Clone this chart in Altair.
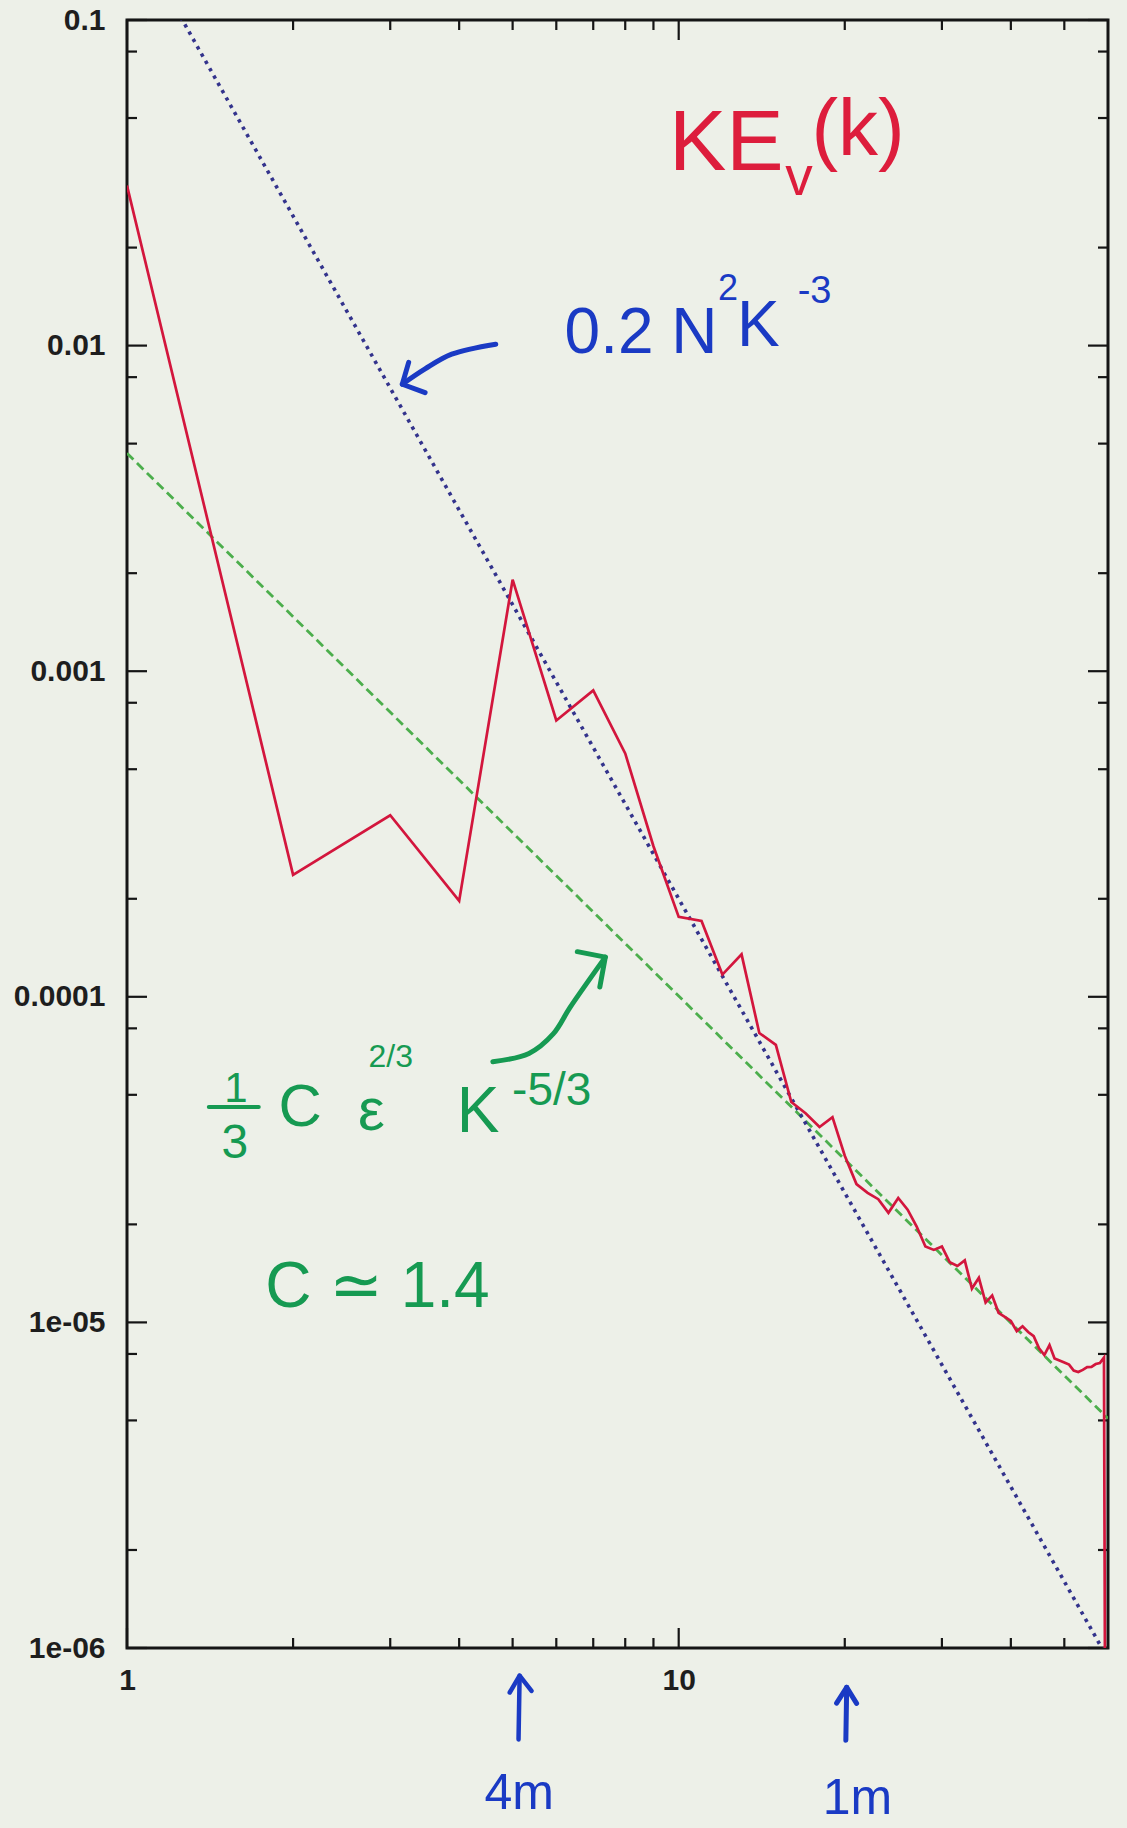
import altair as alt
import pandas as pd

# ---------------- data ----------------
k_values = list(range(1, 61))
ke_values = [
    0.031, 2.37e-4, 3.61e-4, 1.97e-4, 1.91e-3, 7.06e-4, 8.73e-4, 5.59e-4, 2.9e-4, 1.76e-4,
    1.71e-4, 1.17e-4, 1.35e-4, 7.74e-5, 7.12e-5, 4.75e-5, 4.38e-5, 3.98e-5, 4.27e-5, 3.25e-5,
    2.66e-5, 2.50e-5, 2.39e-5, 2.17e-5, 2.41e-5, 2.22e-5, 1.97e-5, 1.71e-5, 1.67e-5, 1.71e-5,
    1.53e-5, 1.49e-5, 1.55e-5, 1.27e-5, 1.37e-5, 1.15e-5, 1.21e-5, 1.07e-5, 1.04e-5, 1.01e-5,
    9.40e-6, 9.73e-6, 9.34e-6, 9.07e-6, 8.33e-6, 7.94e-6, 8.52e-6, 7.75e-6, 7.64e-6, 7.53e-6,
    7.42e-6, 7.11e-6, 7.04e-6, 7.15e-6, 7.29e-6, 7.30e-6, 7.45e-6, 7.50e-6, 7.80e-6, 1e-9,
]

# reference power laws (end points of the straight log-log lines)
blue_k = [1, 60]
blue_v = [0.2, 9.26e-7]          # 0.2 N^2 k^-3
green_k = [1, 60]
green_v = [4.67e-3, 5.07e-6]     # 1/3 C eps^(2/3) k^(-5/3)

# axis ticks
x_major = [1, 10]
x_major_labels = ["1", "10"]
x_minor = [2, 3, 4, 5, 6, 7, 8, 9, 20, 30, 40, 50]
y_major = [0.1, 0.01, 0.001, 0.0001, 1e-05, 1e-06]
y_major_labels = ["0.1", "0.01", "0.001", "0.0001", "1e-05", "1e-06"]
y_minor = [8e-2, 5e-2, 2e-2, 8e-3, 5e-3, 2e-3, 8e-4, 5e-4, 2e-4,
           8e-5, 5e-5, 2e-5, 8e-6, 5e-6, 2e-6]

# ---------------- styling ----------------
W, H = 981, 1628
BG = "#edf0e8"
FRAME = "#151515"
AXFONT = "Liberation Sans"
HAND = "Liberation Sans, DejaVu Sans, sans-serif"
RED = "#dd1d3c"
BLUE = "#1a3ac4"
GREEN = "#169a52"


def label_expr(values, labels):
    expr = ""
    for v, lab in zip(values, labels):
        expr += f"datum.value > {v * 0.5} ? '{lab}' : "
    return expr + "''"


xs = alt.Scale(type="log", domain=[1, 60], nice=False)
ys = alt.Scale(type="log", domain=[1e-6, 0.1], nice=False)

x_axis = alt.Axis(values=x_major, labelExpr=label_expr(x_major[::-1], x_major_labels[::-1]),
                  ticks=False, domain=False, grid=False, labelFontSize=30, labelFont=AXFONT,
                  labelFontWeight="bold", labelColor="#1e1e1e", labelPadding=17,
                  labelFlush=False, title=None)
y_axis = alt.Axis(values=y_major, labelExpr=label_expr(y_major, y_major_labels),
                  ticks=False, domain=False, grid=False, labelFontSize=30, labelFont=AXFONT,
                  labelFontWeight="bold", labelColor="#1e1e1e", labelPadding=22,
                  labelFlush=False, title=None)


def X(f):
    return alt.X(f"{f}:Q", scale=xs, axis=x_axis)


def Y(f):
    return alt.Y(f"{f}:Q", scale=ys, axis=y_axis)


layers = []

# tick marks drawn inward on all four sides
def yticks(vals, x0, x1):
    return alt.Chart(pd.DataFrame({"v": vals})).mark_rule(color=FRAME, strokeWidth=2.2).encode(
        y=Y("v"), x=alt.value(x0), x2=alt.value(x1))


def xticks(vals, y0, y1):
    return alt.Chart(pd.DataFrame({"k": vals})).mark_rule(color=FRAME, strokeWidth=2.2).encode(
        x=X("k"), y=alt.value(y0), y2=alt.value(y1))


layers += [
    yticks(y_major, 0, 20), yticks(y_minor, 0, 10),
    yticks(y_major, W - 20, W), yticks(y_minor, W - 10, W),
    xticks(x_major, H, H - 20), xticks(x_minor, H, H - 10),
    xticks(x_major, 0, 20), xticks(x_minor, 0, 10),
]

# reference lines
layers.append(
    alt.Chart(pd.DataFrame({"k": green_k, "v": green_v})).mark_line(
        color="#4cae4c", strokeWidth=2.8, strokeDash=[9, 5], clip=True
    ).encode(x=X("k"), y=Y("v"))
)
layers.append(
    alt.Chart(pd.DataFrame({"k": blue_k, "v": blue_v})).mark_line(
        color="#33338c", strokeWidth=3.6, strokeDash=[3.4, 5], clip=True
    ).encode(x=X("k"), y=Y("v"))
)
# spectrum
layers.append(
    alt.Chart(pd.DataFrame({"k": k_values, "v": ke_values})).mark_line(
        color="#d3163d", strokeWidth=2.7, clip=True
    ).encode(x=X("k"), y=Y("v"))
)


# ---------------- hand-written annotations ----------------
def note(text, k, v, size, color, align="left"):
    return alt.Chart(pd.DataFrame({"k": [k], "v": [v], "t": [text]})).mark_text(
        align=align, baseline="alphabetic", fontSize=size, color=color, font=HAND
    ).encode(x=X("k"), y=Y("v"), text="t:N")


def path(ks, vs, color, width, interp="linear"):
    df = pd.DataFrame({"k": ks, "v": vs, "i": list(range(len(ks)))})
    return alt.Chart(df).mark_line(
        color=color, strokeWidth=width, strokeCap="round", strokeJoin="round", interpolate=interp
    ).encode(x=X("k"), y=Y("v"), order="i:Q")


# KE_v(k)
layers += [
    note("KE", 9.6, 0.0345, 86, RED),
    note("v", 15.6, 0.029, 55, RED),
    note("(k)", 17.4, 0.0385, 80, RED),
]
# 0.2 N^2 k^-3
layers += [
    note("0.2 N", 6.21, 9.48e-3, 64, BLUE),
    note("2", 11.78, 0.0138, 36, BLUE),
    note("K", 12.76, 9.95e-3, 64, BLUE),
    note("-3", 16.43, 0.01352, 38, BLUE),
    path([4.66, 3.878, 3.47, 3.155], [1.01e-2, 9.41e-3, 8.48e-3, 7.61e-3], BLUE, 5, "catmull-rom"),
    path([3.24, 3.155, 3.47], [8.88e-3, 7.61e-3, 7.17e-3], BLUE, 5),
]
# 1/3 C eps^(2/3) k^(-5/3)
layers += [
    note("1", 1.575, 4.75e-5, 42, GREEN, "center"),
    path([1.407, 1.733], [4.59e-5, 4.59e-5], GREEN, 4),
    note("3", 1.569, 3.2e-5, 48, GREEN, "center"),
    note("C", 1.881, 4.02e-5, 60, GREEN),
    note("ε", 2.623, 3.9e-5, 60, GREEN),
    note("2/3", 2.74, 6.1e-5, 32, GREEN),
    note("K", 3.962, 3.85e-5, 64, GREEN),
    note("-5/3", 4.989, 4.66e-5, 46, GREEN),
    note("C ≃ 1.4", 1.781, 1.116e-5, 64, GREEN),
    path([4.604, 5.353, 5.923, 6.342, 6.907, 7.362],
         [6.32e-5, 6.7e-5, 7.69e-5, 9.23e-5, 1.137e-4, 1.324e-4], GREEN, 5, "catmull-rom"),
    path([6.55, 7.362, 7.195], [1.376e-4, 1.324e-4, 1.072e-4], GREEN, 5),
]
# 4 m and 1 m wavelength markers below the axis
layers += [
    path([5.125, 5.148], [5.24e-7, 8.22e-7], BLUE, 4.5),
    path([4.94, 5.148, 5.41], [7.3e-7, 8.22e-7, 7.38e-7], BLUE, 4.5),
    note("4m", 5.14, 3.2e-7, 50, BLUE, "center"),
    path([20.09, 20.16], [5.21e-7, 7.57e-7], BLUE, 5),
    path([19.33, 20.16, 21.01], [6.77e-7, 7.57e-7, 6.76e-7], BLUE, 5),
    note("1m", 21.08, 3.1e-7, 50, BLUE, "center"),
]

chart = alt.layer(*layers).properties(
    width=W,
    height=H,
    autosize=alt.AutoSizeParams(type="none"),
    padding={"left": 127, "top": 20, "right": 19, "bottom": 180},
    background=BG,
).configure_view(stroke=FRAME, strokeWidth=3, fill=BG)

chart.save("out.html", embed_options={"renderer": "svg", "actions": False})
